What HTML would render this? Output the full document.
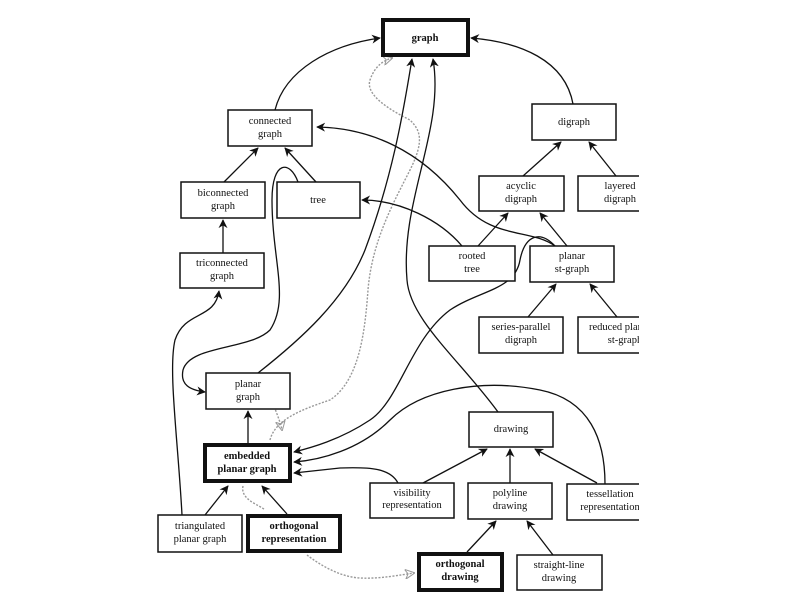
<!DOCTYPE html>
<html><head><meta charset="utf-8"><style>
html,body{margin:0;padding:0;background:#fff;}
svg{display:block;}
text{font-family:"Liberation Serif",serif;font-size:10.5px;fill:#111;}
.b{font-weight:bold;}
</style></head><body>
<svg width="794" height="595" viewBox="0 0 794 595" xmlns="http://www.w3.org/2000/svg">
<defs>
<marker id="a" viewBox="0 0 10 10" refX="9" refY="5" markerWidth="9" markerHeight="9" orient="auto-start-reverse" markerUnits="userSpaceOnUse">
<path d="M0,0 L10,5 L0,10 L3,5 z" fill="#111"/></marker>
<marker id="g" viewBox="0 0 10 10" refX="9" refY="5" markerWidth="10" markerHeight="10" orient="auto" markerUnits="userSpaceOnUse">
<path d="M0,0 L10,5 L0,10 L3,5 z" fill="none" stroke="#999" stroke-width="1"/></marker>
<clipPath id="c"><rect x="0" y="0" width="639" height="595"/></clipPath>
</defs>
<g clip-path="url(#c)">
<!-- gray dotted -->
<g fill="none" stroke="#999" stroke-width="1.4" stroke-dasharray="2,1.5">
<path d="M270,440 C275,420 300,410 330,400 C360,380 365,330 368,290 C372,240 395,200 410,170 C425,140 420,130 410,120 C390,110 365,95 370,80 C375,65 385,60 392,58" marker-end="url(#g)"/>
<path d="M272,400 C275,410 280,420 282,430" marker-end="url(#g)"/>
<path d="M243,486 C240,500 260,505 265,510" />
<path d="M307,555 C320,565 340,577 360,578 C380,579 400,575 414,573" marker-end="url(#g)"/>
</g>
<g fill="none" stroke="#111" stroke-width="1.3">
<path d="M275,110 C285,70 330,45 380,38" marker-end="url(#a)"/>
<path d="M573,104 C565,60 520,42 471,38" marker-end="url(#a)"/>
<path d="M224,182 L258,148" marker-end="url(#a)"/>
<path d="M316,182 L285,148" marker-end="url(#a)"/>
<path d="M223,253 L223,220" marker-end="url(#a)"/>
<path d="M523,176 L561,142" marker-end="url(#a)"/>
<path d="M616,176 L589,142" marker-end="url(#a)"/>
<path d="M478,246 L508,213" marker-end="url(#a)"/>
<path d="M567,246 L540,213" marker-end="url(#a)"/>
<path d="M528,317 L556,284" marker-end="url(#a)"/>
<path d="M617,317 L590,284" marker-end="url(#a)"/>
<path d="M462,246 C440,220 400,200 362,200" marker-end="url(#a)"/>
<path d="M555,246 C530,228 490,240 460,200 C420,150 370,128 317,127" marker-end="url(#a)"/>
<path d="M258,373 C300,340 345,300 365,250 C395,170 405,100 412,59" marker-end="url(#a)"/>
<path d="M498,412 C460,360 410,320 407,280 C400,200 445,130 433,59" marker-end="url(#a)"/>
<path d="M555,246 C540,230 525,235 520,260 C515,290 480,290 450,310 C410,340 400,400 370,420 C340,440 310,448 294,452" marker-end="url(#a)"/>
<path d="M605,484 C605,440 590,400 540,390 C480,378 420,390 390,420 C360,450 320,460 294,462" marker-end="url(#a)"/>
<path d="M398,483 C390,468 370,467 340,468 L294,473" marker-end="url(#a)"/>
<path d="M182,515 C178,440 168,370 175,340 C185,310 215,320 219,291" marker-end="url(#a)"/>
<path d="M298,182 C290,160 272,160 272,200 C272,260 290,300 270,330 C250,350 190,345 183,370 C180,385 190,390 205,392" marker-end="url(#a)"/>
<path d="M248,443 L248,411" marker-end="url(#a)"/>
<path d="M205,515 L228,486" marker-end="url(#a)"/>
<path d="M287,514 L262,486" marker-end="url(#a)"/>
<path d="M423,483 L487,449" marker-end="url(#a)"/>
<path d="M510,483 L510,449" marker-end="url(#a)"/>
<path d="M597,483 L535,449" marker-end="url(#a)"/>
<path d="M467,552 L496,521" marker-end="url(#a)"/>
<path d="M553,555 L527,521" marker-end="url(#a)"/>
</g>
<g fill="#fff" stroke="#111" stroke-width="1.5">
<rect x="228" y="110" width="84" height="36"/>
<rect x="532" y="104" width="84" height="36"/>
<rect x="181" y="182" width="84" height="36"/>
<rect x="277" y="182" width="83" height="36"/>
<rect x="479" y="176" width="85" height="35"/>
<rect x="578" y="176" width="70" height="35"/>
<rect x="180" y="253" width="84" height="35"/>
<rect x="429" y="246" width="86" height="35"/>
<rect x="530" y="246" width="84" height="36"/>
<rect x="479" y="317" width="84" height="36"/>
<rect x="578" y="317" width="70" height="36"/>
<rect x="206" y="373" width="84" height="36"/>
<rect x="469" y="412" width="84" height="35"/>
<rect x="370" y="483" width="84" height="35"/>
<rect x="468" y="483" width="84" height="36"/>
<rect x="567" y="484" width="80" height="36"/>
<rect x="158" y="515" width="84" height="37"/>
<rect x="517" y="555" width="85" height="35"/>
</g>
<g fill="#fff" stroke="#111" stroke-width="4">
<rect x="383" y="20" width="85" height="35"/>
<rect x="205" y="445" width="85" height="36"/>
<rect x="248" y="516" width="92" height="35"/>
<rect x="419" y="554" width="83" height="36"/>
</g>
<g text-anchor="middle">
<text class="b" x="425" y="41">graph</text>
<text x="270" y="124">connected</text><text x="270" y="137">graph</text>
<text x="574" y="125">digraph</text>
<text x="223" y="196">biconnected</text><text x="223" y="209">graph</text>
<text x="318" y="203">tree</text>
<text x="521" y="189">acyclic</text><text x="521" y="202">digraph</text>
<text x="620" y="189">layered</text><text x="620" y="202">digraph</text>
<text x="222" y="266">triconnected</text><text x="222" y="279">graph</text>
<text x="472" y="259">rooted</text><text x="472" y="272">tree</text>
<text x="572" y="259">planar</text><text x="572" y="272">st-graph</text>
<text x="521" y="330">series-parallel</text><text x="521" y="343">digraph</text>
<text x="620" y="330">reduced planar</text><text x="625" y="343">st-graph</text>
<text x="248" y="387">planar</text><text x="248" y="400">graph</text>
<text class="b" x="247" y="459">embedded</text><text class="b" x="247" y="472">planar graph</text>
<text x="511" y="432">drawing</text>
<text x="412" y="496">visibility</text><text x="412" y="508">representation</text>
<text x="510" y="496">polyline</text><text x="510" y="509">drawing</text>
<text x="610" y="497">tessellation</text><text x="610" y="510">representation</text>
<text x="200" y="529">triangulated</text><text x="200" y="542">planar graph</text>
<text class="b" x="294" y="529">orthogonal</text><text class="b" x="294" y="542">representation</text>
<text class="b" x="460" y="567">orthogonal</text><text class="b" x="460" y="580">drawing</text>
<text x="559" y="568">straight-line</text><text x="559" y="581">drawing</text>
</g>
</g>
</svg>
</body></html>
